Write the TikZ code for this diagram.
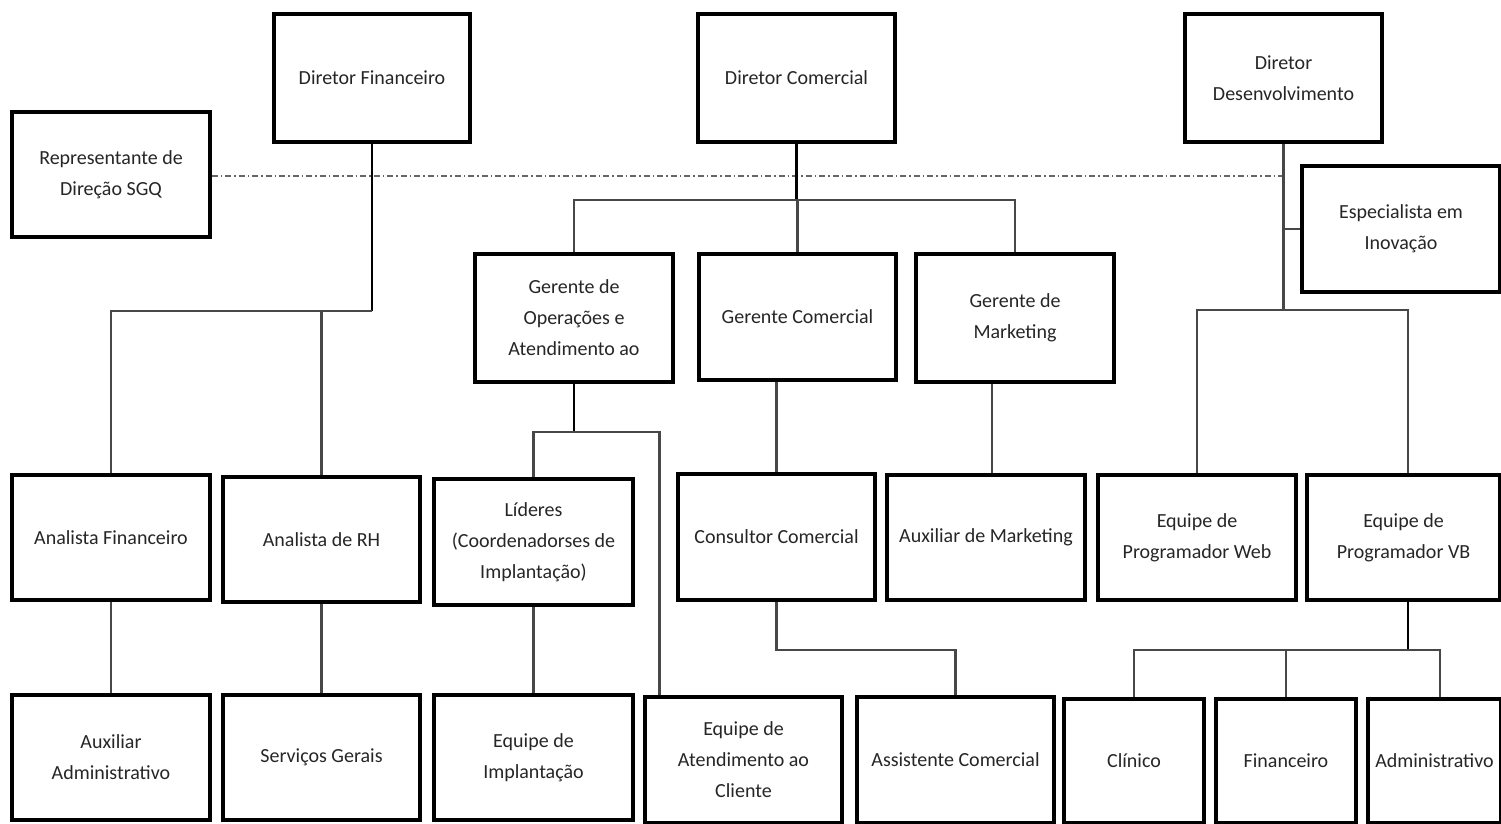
\documentclass[tikz,border=0pt]{standalone}
\usepackage{fontspec}
\setmainfont{Carlito}
\begin{document}
\begin{tikzpicture}[x=1pt,y=-1pt,
  box/.style={draw=black, line width=3.2pt, fill=white, align=center, inner sep=0pt,
    text=black!85, font=\fontsize{20}{31}\selectfont},
  trunk/.style={draw=black, line width=2.8pt},
  branch/.style={draw=black!72, line width=2.2pt},
  dotline/.style={draw=black!60, line width=1.8pt, dash pattern=on 6pt off 3pt on 1.5pt off 3pt}]
\useasboundingbox (0,0) rectangle (1501,823);
% top row
\node[box, minimum width=196pt, minimum height=128pt] (dfin) at (372,78) {Diretor Financeiro};
\node[box, minimum width=197pt, minimum height=128pt] (dcom) at (796.5,78) {Diretor Comercial};
\node[box, minimum width=197pt, minimum height=128pt] (ddev) at (1283.5,78) {Diretor\\Desenvolvimento};
\node[box, minimum width=198pt, minimum height=125pt] (rep) at (111,174.5) {Representante de\\Direção SGQ};
\node[box, minimum width=198pt, minimum height=126pt] (esp) at (1401,229) {Especialista em\\Inovação};
% managers
\node[box, minimum width=198pt, minimum height=128pt] (gops) at (574,318) {Gerente de\\Operações e\\Atendimento ao};
\node[box, minimum width=197pt, minimum height=126pt] (gcom) at (797.5,317) {Gerente Comercial};
\node[box, minimum width=198pt, minimum height=128pt] (gmkt) at (1015,318) {Gerente de\\Marketing};
% middle row
\node[box, minimum width=198pt, minimum height=125pt] (anfin) at (111,537.5) {Analista Financeiro};
\node[box, minimum width=197pt, minimum height=125pt] (anrh) at (321.5,539.5) {Analista de RH};
\node[box, minimum width=199pt, minimum height=126pt] (lid) at (533.5,542) {Líderes\\(Coordenadorses de\\Implantação)};
\node[box, minimum width=197pt, minimum height=126pt] (cons) at (776.5,537) {Consultor Comercial};
\node[box, minimum width=198pt, minimum height=125pt] (amkt) at (986,537.5) {Auxiliar de Marketing};
\node[box, minimum width=198pt, minimum height=125pt] (web) at (1197,537.5) {Equipe de\\Programador Web};
\node[box, minimum width=193pt, minimum height=125pt] (vb) at (1403.5,537.5) {Equipe de\\Programador VB};
% bottom row
\node[box, minimum width=198pt, minimum height=125pt] (auxadm) at (111,757.5) {Auxiliar\\Administrativo};
\node[box, minimum width=197pt, minimum height=125pt] (serv) at (321.5,757.5) {Serviços Gerais};
\node[box, minimum width=199pt, minimum height=125pt] (eimp) at (533.5,757.5) {Equipe de\\Implantação};
\node[box, minimum width=197pt, minimum height=126pt] (eat) at (743.5,760) {Equipe de\\Atendimento ao\\Cliente};
\node[box, minimum width=197pt, minimum height=126pt] (asst) at (955.5,760) {Assistente Comercial};
\node[box, minimum width=140pt, minimum height=124pt] (clin) at (1134,761) {Clínico};
\node[box, minimum width=140pt, minimum height=124pt] (fin) at (1286,761) {Financeiro};
\node[box, minimum width=133pt, minimum height=124pt] (adm) at (1434.5,761) {Administrativo};
% junction coordinates
\coordinate (jf) at (0,311);
\coordinate (jc) at (0,200);
\coordinate (jo) at (0,432);
\coordinate (jk) at (0,650);
\coordinate (jd) at (0,310);
\coordinate (jv) at (0,650);
% dash-dot line
\draw[dotline] (rep.east |- 0,176) -- (ddev.south |- 0,176);
% Diretor Financeiro
\draw[trunk] (dfin.south) -- (dfin.south |- jf);
\draw[branch] (dfin.south |- jf) -| (anfin.north);
\draw[branch] (anrh.north |- jf) -- (anrh.north);
\draw[branch] (anfin.south) -- (auxadm.north);
\draw[branch] (anrh.south) -- (serv.north);
% Diretor Comercial
\draw[trunk] (dcom.south) -- (dcom.south |- jc);
\draw[branch] (gops.north) |- (gmkt.north |- jc) -- (gmkt.north);
\draw[branch] (gcom.north |- jc) -- (gcom.north);
% Gerente de Operacoes
\draw[trunk] (gops.south) -- (gops.south |- jo);
\coordinate (eatin) at ([xshift=16pt]eat.north west);
\draw[branch] (lid.north) |- (eatin |- jo) -- (eatin);
\draw[branch] (lid.south) -- (eimp.north);
% Gerente Comercial
\draw[branch] (cons.north) -- (cons.north |- gcom.south);
\draw[branch] (cons.south) |- (asst.north |- jk) -- (asst.north);
% Gerente de Marketing
\coordinate (mk) at ([xshift=6pt]amkt.north);
\draw[branch] (mk) -- (mk |- gmkt.south);
% Diretor Desenvolvimento
\draw[branch] (ddev.south) -- (ddev.south |- jd);
\draw[branch] (esp.west) -- (esp.west -| ddev.south);
\coordinate (vbin) at ([xshift=4.5pt]vb.north);
\draw[branch] (web.north) |- (vbin |- jd) -- (vbin);
% Equipe VB
\coordinate (vbout) at ([xshift=4.5pt]vb.south);
\draw[trunk] (vbout) -- (vbout |- jv);
\coordinate (admin) at ([xshift=5.5pt]adm.north);
\draw[branch] (clin.north) |- (admin |- jv) -- (admin);
\draw[branch] (fin.north |- jv) -- (fin.north);
\end{tikzpicture}
\end{document}
